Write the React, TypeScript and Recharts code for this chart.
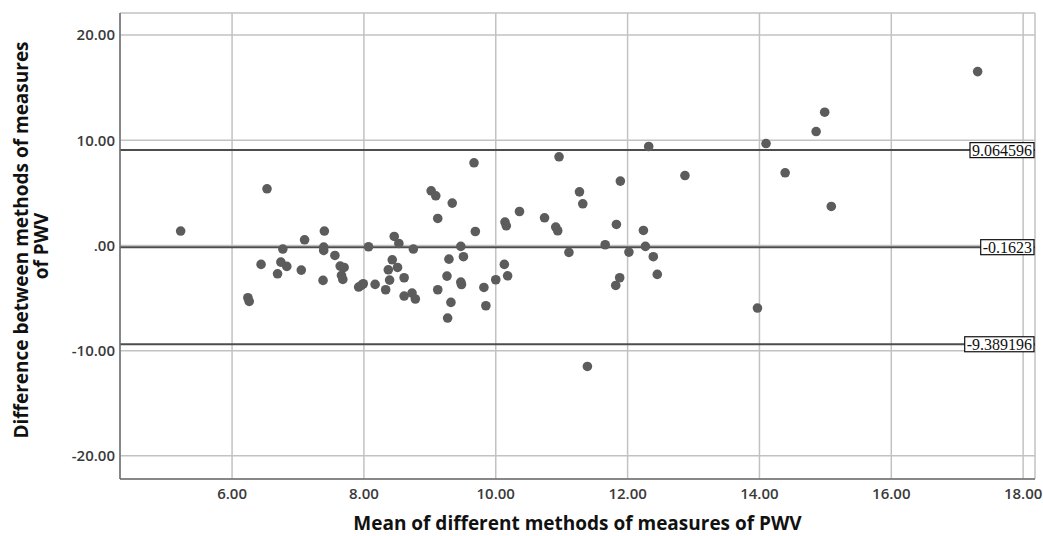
import { ScatterChart, Scatter, XAxis, YAxis, CartesianGrid, ReferenceLine } from 'recharts';

// mean of the two methods (x) and their difference (y), one entry per subject
const meanValues = [
  5.22, 6.53, 7.40, 7.10, 7.39, 7.39, 6.77, 7.56, 6.44, 6.74,
  6.83, 7.05, 6.69, 7.64, 7.70, 7.66, 7.68, 7.38, 7.92, 6.24,
  6.26, 9.67, 9.02, 9.09, 9.34, 9.12, 9.69, 10.36, 10.14, 10.16,
  8.46, 8.53, 8.07, 8.75, 9.47, 9.29, 9.51, 8.43, 8.37, 8.51,
  10.13, 10.18, 10.00, 9.26, 8.61, 8.39, 9.47, 9.48, 7.96, 7.99,
  8.17, 8.33, 9.82, 9.12, 8.61, 8.73, 8.78, 9.32, 9.85, 9.27,
  12.32, 10.96, 11.89, 11.27, 11.32, 10.74, 10.91, 10.94, 11.83, 12.24,
  11.66, 11.11, 12.02, 12.27, 12.39, 12.45, 11.88, 11.82, 17.31, 14.99,
  14.86, 14.10, 14.39, 15.09, 12.87, 13.97, 11.39
];
const diffValues = [
  1.37, 5.39, 1.37, 0.54, -0.15, -0.47, -0.34, -0.95, -1.80, -1.58,
  -1.99, -2.34, -2.69, -1.96, -2.09, -2.85, -3.23, -3.32, -3.95, -4.97,
  -5.32, 7.86, 5.20, 4.72, 4.03, 2.57, 1.33, 3.23, 2.22, 1.87,
  0.86, 0.19, -0.12, -0.34, -0.09, -1.30, -1.07, -1.36, -2.31, -2.09,
  -1.80, -2.88, -3.26, -2.91, -3.07, -3.29, -3.48, -3.71, -3.80, -3.64,
  -3.70, -4.21, -3.99, -4.21, -4.81, -4.52, -5.09, -5.41, -5.73, -6.90,
  9.41, 8.43, 6.12, 5.10, 3.96, 2.63, 1.75, 1.40, 2.00, 1.43,
  0.07, -0.66, -0.63, -0.09, -1.07, -2.75, -3.07, -3.80, 16.53, 12.67,
  10.83, 9.69, 6.91, 3.71, 6.65, -5.95, -11.50
];

const xTicks = [6, 8, 10, 12, 14, 16, 18];
const yTicks = [-20, -10, 0, 10, 20];

// upper limit, mean difference, lower limit
const limitValues = [9.064596, -0.1623, -9.389196];
const limitLabels = ['9.064596', '-0.1623', '-9.389196'];

const points = meanValues.map((x, i) => ({ x, y: diffValues[i] }));

const tickStyle = { fontSize: 15, fill: '#3a3a3a', fontWeight: 600, fontFamily: '"Open Sans", sans-serif' };
const titleStyle = { fontSize: 19, fill: '#111', fontWeight: 700, fontFamily: '"Open Sans", sans-serif' };

const fmtY = (v: number) => (v === 0 ? '.00' : v.toFixed(2));

const textWidth = (s: string) =>
  s.split('').reduce((w, c) => w + (c === '.' ? 4 : c === '-' ? 5.3 : 8), 0);

const LimitLabel = ({ viewBox, text }: any) => {
  if (!viewBox) return null;
  const w = textWidth(text) + 4;
  const right = viewBox.x + viewBox.width - 1;
  const y = viewBox.y;
  return (
    <g>
      <rect x={right - w} y={y - 7.5} width={w} height={15} fill="#fff" stroke="#111" strokeWidth={1.2} />
      <text x={right - 2} y={y + 5.5} textAnchor="end" fontSize={16} fill="#111"
        fontFamily='"Liberation Serif", serif'>
        {text}
      </text>
    </g>
  );
};

const XTitle = ({ viewBox }: any) => {
  if (!viewBox) return null;
  return (
    <text x={viewBox.x + viewBox.width / 2} y={530} textAnchor="middle" style={titleStyle}>
      Mean of different methods of measures of PWV
    </text>
  );
};

const YTitle = () => (
  <g>
    <text x={28} y={240} transform="rotate(-90 28 240)" textAnchor="middle" style={titleStyle}>
      Difference between methods of measures
    </text>
    <text x={48} y={246} transform="rotate(-90 48 246)" textAnchor="middle" style={titleStyle}>
      of PWV
    </text>
  </g>
);

const Dot = ({ cx, cy }: any) => <circle cx={cx} cy={cy} r={4.8} fill="#5c5c5c" />;

export default function App() {
  return (
    <div style={{ position: 'absolute', left: 0, top: 0, width: 1043, height: 536, background: '#fff' }}>
      <ScatterChart width={1043} height={536} margin={{ top: 13, right: 8, bottom: 0, left: 0 }}>
        <CartesianGrid stroke="#c2c2c2" strokeWidth={1.5} />
        <XAxis
          type="number"
          dataKey="x"
          domain={[4.3, 18.18]}
          ticks={xTicks}
          tickFormatter={(v: number) => v.toFixed(2)}
          tick={tickStyle}
          tickLine={false}
          tickSize={6}
          tickMargin={3}
          height={57}
          stroke="#6e6e6e"
          strokeWidth={1.5}
          label={<XTitle />}
        />
        <YAxis
          type="number"
          dataKey="y"
          domain={[-22.2, 22.1]}
          ticks={yTicks}
          tickFormatter={fmtY}
          tick={tickStyle}
          tickLine={false}
          tickSize={3}
          tickMargin={2}
          width={120}
          stroke="#6e6e6e"
          strokeWidth={1.5}
          label={<YTitle />}
        />
        {limitValues.map((v, i) => (
          <ReferenceLine
            key={limitLabels[i]}
            y={v}
            stroke="#4d4d4d"
            strokeWidth={2}
            label={<LimitLabel text={limitLabels[i]} />}
          />
        ))}
        <Scatter data={points} shape={<Dot />} isAnimationActive={false} />
      </ScatterChart>
    </div>
  );
}
